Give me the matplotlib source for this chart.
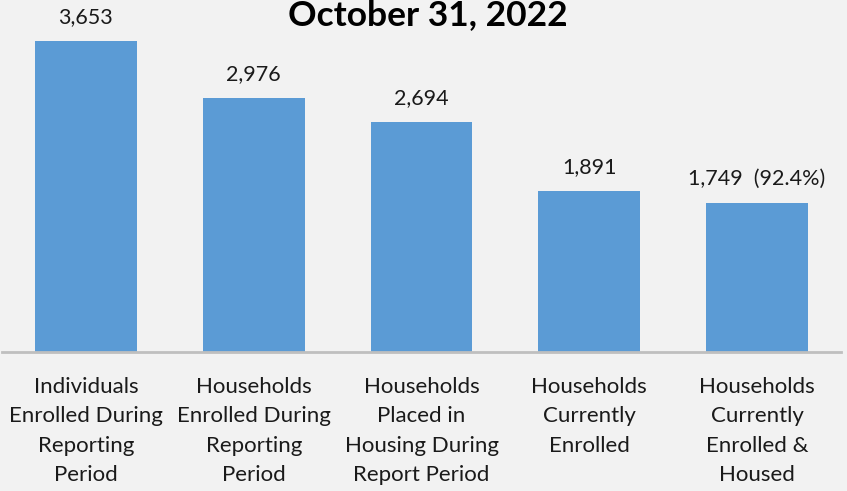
import matplotlib
matplotlib.use("Agg")
import matplotlib.pyplot as plt

categories = [
    "Individuals\nEnrolled During\nReporting\nPeriod",
    "Households\nEnrolled During\nReporting\nPeriod",
    "Households\nPlaced in\nHousing During\nReport Period",
    "Households\nCurrently\nEnrolled",
    "Households\nCurrently\nEnrolled &\nHoused",
]
values = [3653, 2976, 2694, 1891, 1749]
value_labels = ["3,653", "2,976", "2,694", "1,891", "1,749  (92.4%)"]

plt.rcParams['font.family'] = ['Lato', 'DejaVu Sans']

bg = "#F2F2F2"
fig = plt.figure(figsize=(8.47, 4.91), dpi=100, facecolor=bg)
ax = fig.add_axes([2 / 847, 139 / 491, 839 / 847, 352 / 491])
ax.set_facecolor(bg)

x = range(len(values))
bars = ax.bar(x, values, width=0.607, color="#5B9BD5", zorder=2)
ax.set_xlim(-0.5, 4.5)
ax.set_ylim(0, 4130)

for b, lab in zip(bars, value_labels):
    ax.annotate(lab, (b.get_x() + b.get_width() / 2, b.get_height()),
                xytext=(0, 13), textcoords="offset points",
                ha="center", va="baseline", fontsize=15.5, color="#1a1a1a")

for s in ["top", "right", "left"]:
    ax.spines[s].set_visible(False)
ax.spines["bottom"].set_color("#BFBFBF")
ax.spines["bottom"].set_linewidth(2)
ax.set_yticks([])
ax.set_xticks(list(x))
ax.set_xticklabels(categories, fontsize=16, linespacing=1.58, color="#1a1a1a", va="top")
ax.tick_params(axis="x", length=0, pad=18)

fig.text(428 / 847, 1 - 15 / 491, "October 31, 2022", ha="center", va="center",
         fontsize=25.5, fontweight="bold", color="black")

fig.savefig("out.png", dpi=100, facecolor=bg)
